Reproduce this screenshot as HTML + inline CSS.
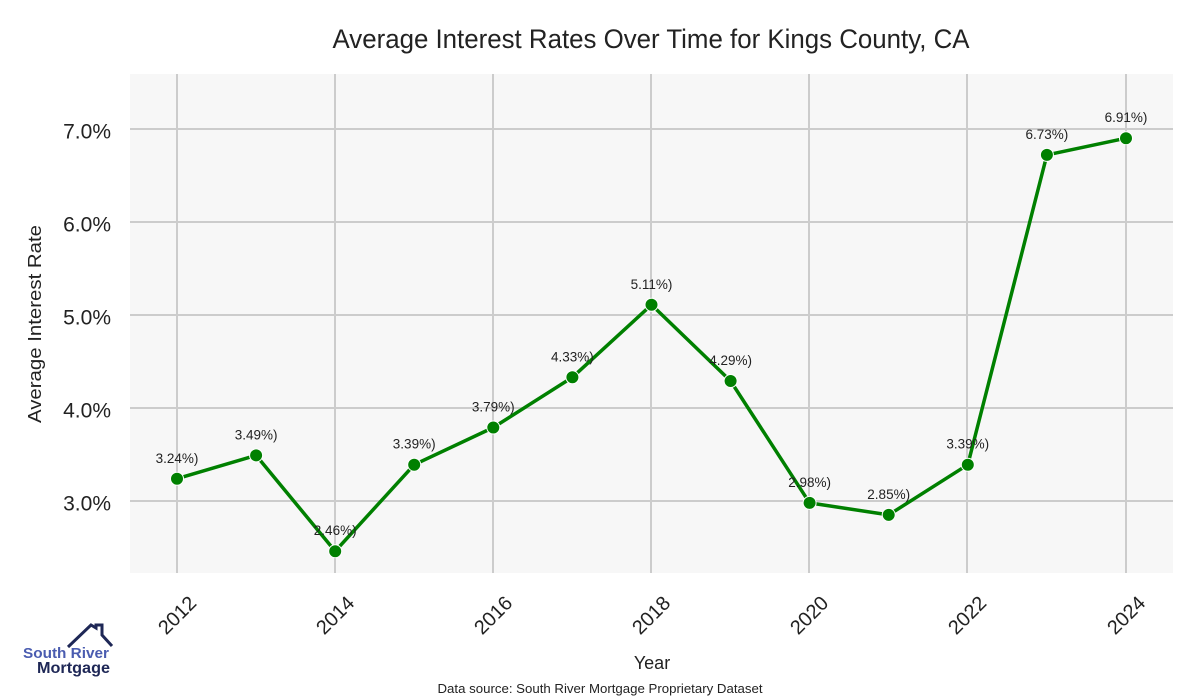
<!DOCTYPE html>
<html><head><meta charset="utf-8"><style>
html,body{margin:0;padding:0;background:#fff;}
svg{display:block;font-family:"Liberation Sans",Arial,sans-serif;}
</style></head><body>
<svg width="1200" height="700" viewBox="0 0 1200 700" xmlns="http://www.w3.org/2000/svg">
<rect width="1200" height="700" fill="#fff"/>
<text x="651" y="48" font-size="27" fill="#222" text-anchor="middle" textLength="637" lengthAdjust="spacingAndGlyphs">Average Interest Rates Over Time for Kings County, CA</text>
<rect x="130" y="74" width="1043" height="499" fill="#f7f7f7"/>
<g stroke="#cccccc" stroke-width="2">
<line x1="130" x2="1173" y1="129" y2="129"/>
<line x1="130" x2="1173" y1="222" y2="222"/>
<line x1="130" x2="1173" y1="315" y2="315"/>
<line x1="130" x2="1173" y1="408" y2="408"/>
<line x1="130" x2="1173" y1="501" y2="501"/>
<line x1="177" x2="177" y1="74" y2="573"/>
<line x1="335" x2="335" y1="74" y2="573"/>
<line x1="493" x2="493" y1="74" y2="573"/>
<line x1="651" x2="651" y1="74" y2="573"/>
<line x1="809" x2="809" y1="74" y2="573"/>
<line x1="967" x2="967" y1="74" y2="573"/>
<line x1="1126" x2="1126" y1="74" y2="573"/>
</g>
<g font-size="21" fill="#222" text-anchor="end">
<text x="111" y="138.5">7.0%</text>
<text x="111" y="231.5">6.0%</text>
<text x="111" y="324.5">5.0%</text>
<text x="111" y="417.5">4.0%</text>
<text x="111" y="510.5">3.0%</text>
</g>
<text transform="translate(41,324) rotate(-90)" font-size="18" fill="#222" text-anchor="middle" textLength="198" lengthAdjust="spacingAndGlyphs">Average Interest Rate</text>
<g font-size="20" fill="#222" text-anchor="middle">
<text x="177" y="615" dy="0.35em" transform="rotate(-45 177 615)">2012</text>
<text x="335" y="615" dy="0.35em" transform="rotate(-45 335 615)">2014</text>
<text x="493" y="615" dy="0.35em" transform="rotate(-45 493 615)">2016</text>
<text x="651" y="615" dy="0.35em" transform="rotate(-45 651 615)">2018</text>
<text x="809" y="615" dy="0.35em" transform="rotate(-45 809 615)">2020</text>
<text x="967" y="615" dy="0.35em" transform="rotate(-45 967 615)">2022</text>
<text x="1126" y="615" dy="0.35em" transform="rotate(-45 1126 615)">2024</text>
</g>
<text x="652" y="669" font-size="18" fill="#222" text-anchor="middle">Year</text>
<text x="600" y="693" font-size="13" fill="#222" text-anchor="middle" textLength="325" lengthAdjust="spacingAndGlyphs">Data source: South River Mortgage Proprietary Dataset</text>
<polyline fill="none" stroke="#008000" stroke-width="3.5" stroke-linejoin="round" points="177,478.7 256.1,455.4 335.2,551.2 414.2,464.7 493.3,427.5 572.4,377.3 651.5,304.8 730.6,381.0 809.6,502.9 888.7,514.9 967.8,464.7 1046.9,154.9 1126,138.2"/>
<g fill="#008000" stroke="#fff" stroke-width="1">
<circle cx="177" cy="478.7" r="6.5"/>
<circle cx="256.1" cy="455.4" r="6.5"/>
<circle cx="335.2" cy="551.2" r="6.5"/>
<circle cx="414.2" cy="464.7" r="6.5"/>
<circle cx="493.3" cy="427.5" r="6.5"/>
<circle cx="572.4" cy="377.3" r="6.5"/>
<circle cx="651.5" cy="304.8" r="6.5"/>
<circle cx="730.6" cy="381.0" r="6.5"/>
<circle cx="809.6" cy="502.9" r="6.5"/>
<circle cx="888.7" cy="514.9" r="6.5"/>
<circle cx="967.8" cy="464.7" r="6.5"/>
<circle cx="1046.9" cy="154.9" r="6.5"/>
<circle cx="1126" cy="138.2" r="6.5"/>
</g>
<g font-size="13.5" fill="#222" text-anchor="middle">
<text x="177" y="463">3.24%)</text>
<text x="256.1" y="439.5">3.49%)</text>
<text x="335.2" y="535.2">2.46%)</text>
<text x="414.2" y="448.7">3.39%)</text>
<text x="493.3" y="411.5">3.79%)</text>
<text x="572.4" y="361.3">4.33%)</text>
<text x="651.5" y="288.8">5.11%)</text>
<text x="730.6" y="365">4.29%)</text>
<text x="809.6" y="486.9">2.98%)</text>
<text x="888.7" y="498.9">2.85%)</text>
<text x="967.8" y="448.7">3.39%)</text>
<text x="1046.9" y="138.9">6.73%)</text>
<text x="1126" y="122.2">6.91%)</text>
</g>
<polyline fill="none" stroke="#1e2756" stroke-width="3" stroke-linejoin="miter" points="68,647 91,625 96,628 96,625 102,625 102,635 112,646"/>
<text x="23" y="658" font-size="14.5" font-weight="bold" fill="#4a5cb0" textLength="86" lengthAdjust="spacingAndGlyphs">South River</text>
<text x="37" y="673" font-size="15.5" font-weight="bold" fill="#1e2756" textLength="73" lengthAdjust="spacingAndGlyphs">Mortgage</text>
</svg>
</body></html>
